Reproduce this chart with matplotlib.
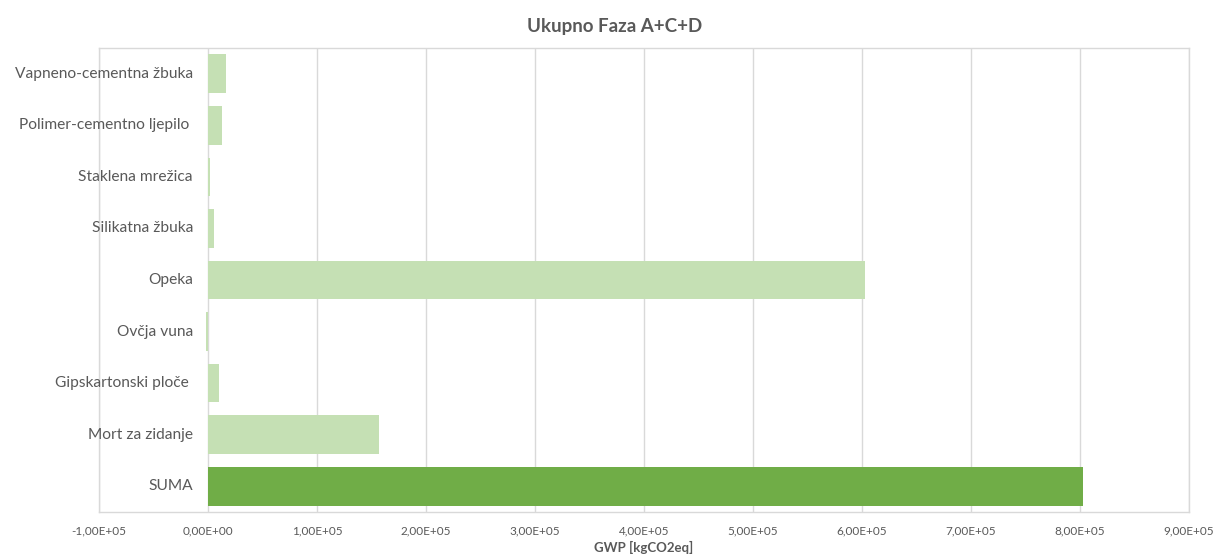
import matplotlib.pyplot as plt
from matplotlib.ticker import FuncFormatter, MultipleLocator

plt.rcParams['font.family'] = ['Lato', 'DejaVu Sans']

# materials, top to bottom
categories = ['Vapneno-cementna žbuka', 'Polimer-cementno ljepilo ', 'Staklena mrežica',
              'Silikatna žbuka', 'Opeka', 'Ovčja vuna', 'Gipskartonski ploče ',
              'Mort za zidanje', 'SUMA']
gwp = [16900, 13300, 1400, 5700, 602400, -2000, 10500, 156800, 803000]

light = '#C5E0B4'
dark = '#70AD47'
textc = '#595959'
gridc = '#D9D9D9'

fig = plt.figure(figsize=(12.13, 5.54), dpi=100)
ax = fig.add_axes([0.0816, 0.0758, 0.8986, 0.8376])

ypos = list(range(len(categories)))
colors = [dark if c == 'SUMA' else light for c in categories]
ax.barh(ypos, gwp, height=0.75, color=colors, zorder=3)

ax.set_xlim(-1e5, 9e5)
ax.set_ylim(len(categories) - 0.5, -0.5)
ax.xaxis.set_major_locator(MultipleLocator(1e5))
ax.xaxis.set_major_formatter(FuncFormatter(lambda v, p: '{:.2E}'.format(v).replace('.', ',')))
ax.set_yticks([])

# category labels sit next to the zero line, like Excel does
for y, name in zip(ypos, categories):
    ax.annotate(name, xy=(0, y), xytext=(-15, 0), textcoords='offset pixels',
                ha='right', va='center', fontsize=11.2, color=textc, zorder=4)

ax.grid(axis='x', color=gridc, linewidth=1.0, zorder=0)
for s in ax.spines.values():
    s.set_color(gridc)
    s.set_linewidth(1.0)
ax.tick_params(axis='both', length=0, colors=textc)
ax.tick_params(axis='x', labelsize=8.5, pad=10)

fig.text(0.531, 0.011, 'GWP [kgCO2eq]', ha='center', va='center',
         fontsize=9.5, fontweight='bold', color=textc)
fig.suptitle('Ukupno Faza A+C+D', x=0.507, y=0.968, fontsize=13.5, fontweight='bold', color=textc)

fig.savefig('out.png', dpi=100)
